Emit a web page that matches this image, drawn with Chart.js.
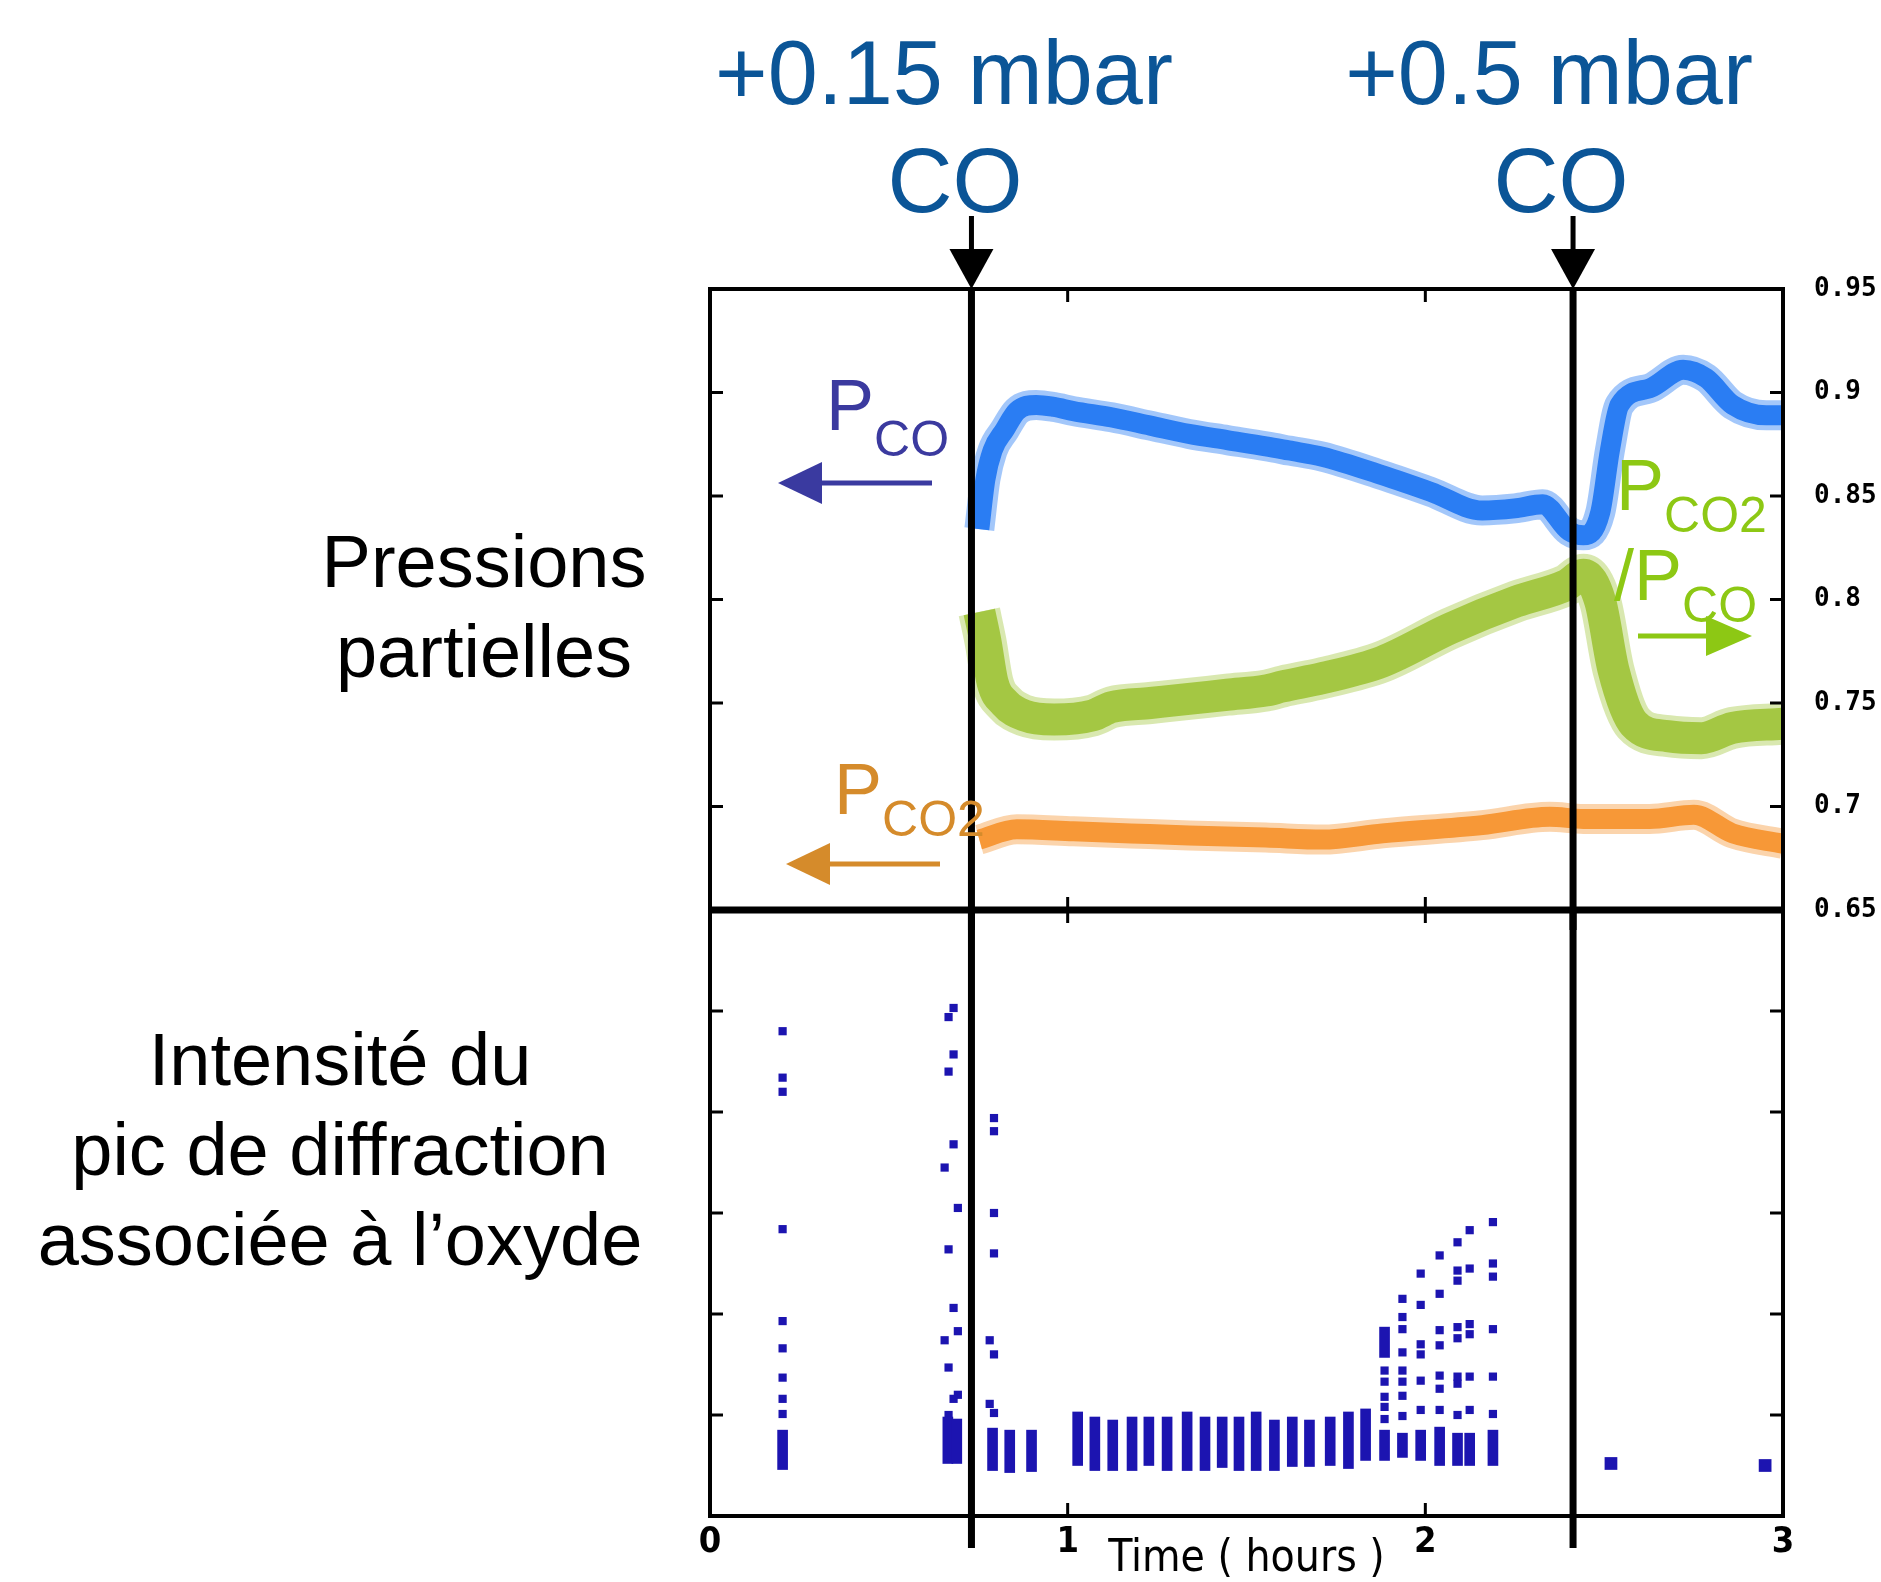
<!DOCTYPE html>
<html><head><meta charset="utf-8">
<script src="https://cdn.jsdelivr.net/npm/chart.js@4.4.1/dist/chart.umd.min.js"></script>
<style>
html,body{margin:0;padding:0;background:#fff;width:1881px;height:1582px;overflow:hidden;}
#page{position:relative;width:1881px;height:1582px;background:#fff;}
.wrap{position:absolute;left:0;}
.txt{position:absolute;white-space:nowrap;font-family:"Liberation Sans",Arial,sans-serif;}
svg{position:absolute;left:0;top:0;}
</style></head><body><div id="page">
<div class="wrap" style="top:0;width:1881px;height:930px"><canvas id="cTop" width="1881" height="930"></canvas></div>
<div class="wrap" style="top:910px;width:1881px;height:672px"><canvas id="cBot" width="1881" height="672"></canvas></div>
<svg width="1881" height="1582" viewBox="0 0 1881 1582">
  <line x1="932" y1="483" x2="815" y2="483" stroke="#3a3aa0" stroke-width="5"/>
  <polygon points="778,483 822,462 822,504" fill="#3a3aa0"/>
  <line x1="940" y1="864" x2="822" y2="864" stroke="#d58b2b" stroke-width="5"/>
  <polygon points="786,864 830,843 830,885" fill="#d58b2b"/>
  <line x1="1638" y1="636" x2="1712" y2="636" stroke="#8dc814" stroke-width="5"/>
  <polygon points="1752,636 1706,616 1706,656" fill="#8dc814"/>
</svg>
</div>
<script>
// ---------- data ----------
// events: CO additions (hours)
const eventTimes = [0.731, 2.413];
const eventLabels = ['+0.15 mbar', '+0.5 mbar'];

// P_CO (left axis, a.u. shown on same span as right axis)
const timeCO = [0.753,0.770,0.790,0.824,0.858,0.912,0.962,1.016,1.123,1.231,1.339,1.446,1.554,1.618,1.712,1.880,2.015,2.159,2.250,2.328,2.402,2.442,2.489,2.516,2.543,2.627,2.721,2.785,2.859,2.953,3.0];
const pCO    = [0.834,0.858,0.872,0.882,0.891,0.894,0.893,0.891,0.888,0.884,0.880,0.877,0.874,0.872,0.869,0.860,0.852,0.843,0.844,0.846,0.833,0.831,0.842,0.872,0.894,0.902,0.911,0.907,0.894,0.889,0.889];

// P_CO2/P_CO ratio (right axis)
const timeRatio = [0.753,0.770,0.790,0.824,0.878,0.962,1.070,1.123,1.231,1.339,1.446,1.554,1.601,1.712,1.880,2.069,2.254,2.395,2.442,2.489,2.526,2.583,2.677,2.772,2.859,3.0];
const ratio     = [0.794,0.780,0.760,0.750,0.744,0.742,0.744,0.748,0.750,0.752,0.754,0.756,0.758,0.762,0.770,0.786,0.799,0.807,0.812,0.799,0.766,0.740,0.734,0.733,0.738,0.740];

// P_CO2 (left axis)
const timeCO2 = [0.753,0.858,1.016,1.177,1.339,1.554,1.712,1.880,2.159,2.348,2.442,2.627,2.751,2.859,3.0];
const pCO2    = [0.684,0.689,0.688,0.687,0.686,0.685,0.684,0.687,0.691,0.695,0.694,0.694,0.696,0.687,0.682];

// right axis tick labels
const ratioTicks = [0.65,0.7,0.75,0.8,0.85,0.9,0.95];
const ratioTickLabels = ['0.65','0.7','0.75','0.8','0.85','0.9','0.95'];
const pressureInnerTicks = [0.7,0.75,0.8,0.85,0.9];

// time axis
const timeTicks = [0,1,2,3];
const timeTickLabels = ['0','1','2','3'];
const innerTimeTicks = [1,2];

// oxide diffraction peak intensity (a.u.) - isolated points
const oxideTime = [
 0.203,0.203,0.203,0.203,0.203,0.203,0.203,0.203,0.203,
 0.681,0.667,0.681,0.667,0.681,0.656,0.693,0.667,0.681,0.693,0.656,0.667,0.693,0.681,0.667,
 0.794,0.794,0.794,0.794,0.782,0.794,0.782,0.794,
 1.886,1.886,1.886,1.886,1.886,
 1.936,1.936,1.936,1.936,1.936,1.936,1.936,1.936,
 1.987,1.987,1.987,1.987,1.987,1.987,
 2.040,2.040,2.040,2.040,2.040,2.040,2.040,
 2.090,2.090,2.090,2.090,2.090,2.090,2.090,2.090,
 2.124,2.124,2.124,2.124,2.124,2.124,
 2.189,2.189,2.189,2.189,2.189,2.189];
const oxideIntensity = [
 4.80,4.34,4.20,2.84,1.93,1.66,1.37,1.16,1.01,
 5.03,4.94,4.57,4.40,3.68,3.45,3.05,2.64,2.06,1.83,1.74,1.47,1.20,1.16,1.00,
 3.94,3.81,3.00,2.60,1.74,1.60,1.11,1.02,
 1.44,1.33,1.18,1.08,0.96,
 2.15,1.97,1.85,1.62,1.44,1.33,1.19,0.99,
 2.40,2.09,1.70,1.60,1.34,1.05,
 2.58,2.20,1.84,1.69,1.39,1.26,1.05,
 2.71,2.43,2.33,1.87,1.76,1.38,1.31,1.00,
 2.83,2.45,1.90,1.80,1.38,1.05,
 2.91,2.50,2.37,1.85,1.38,1.01];
// larger isolated spots after second CO step
const spotTime = [2.519, 2.950];
const spotIntensity = [0.52, 0.50];
// dense runs of points (drawn as vertical strips: low..high)
const stripTime = [0.203,0.665,0.690,0.790,0.838,0.899,
 1.028,1.076,1.126,1.180,1.227,1.278,1.334,1.384,1.432,1.479,1.527,1.578,1.628,1.676,1.734,1.785,1.833,1.886,1.886,1.936,1.987,2.040,2.090,2.124,2.189];
const stripLow  = [0.46,0.52,0.52,0.45,0.43,0.44,
 0.50,0.45,0.45,0.45,0.50,0.45,0.45,0.45,0.48,0.45,0.45,0.45,0.49,0.49,0.50,0.47,0.55,0.55,1.57,0.58,0.55,0.50,0.50,0.50,0.50];
const stripHigh = [0.85,0.98,0.96,0.87,0.85,0.85,
 1.03,0.98,0.95,0.98,0.98,0.98,1.03,0.98,0.98,0.98,1.03,0.95,0.98,0.95,0.98,1.03,1.06,0.85,1.87,0.82,0.85,0.88,0.82,0.82,0.85];
const intensityInnerTicks = [1,2,3,4,5];

// ---------- helpers ----------
const zip = (xs, ys) => xs.map((x,i)=>({x, y: ys[i]}));
Chart.defaults.font.family = '"Liberation Sans", Arial, sans-serif';
Chart.defaults.color = '#000';

const framePlugin = {
  id: 'frame',
  afterDraw(chart, args, o) {
    const {ctx, chartArea: a, scales} = chart;
    const ys = scales[o.yScale], xs = scales.x;
    ctx.save();
    ctx.strokeStyle = '#000';
    ctx.lineWidth = 3;
    const seg = (x1,y1,x2,y2)=>{ctx.beginPath();ctx.moveTo(x1,y1);ctx.lineTo(x2,y2);ctx.stroke();};
    o.yTicks.forEach(v=>{const p=ys.getPixelForValue(v); seg(a.left,p,a.left+13,p); seg(a.right-13,p,a.right,p);});
    o.xTicks.forEach(v=>{const p=xs.getPixelForValue(v); seg(p,a.top,p,a.top+13); seg(p,a.bottom-13,p,a.bottom);});
    ctx.lineWidth = o.lw;
    ctx.strokeRect(a.left, a.top, a.width, a.height);
    if (o.bottomLw) { ctx.lineWidth = o.bottomLw; seg(a.left-2, a.bottom, a.right+2, a.bottom); }
    ctx.restore();
  }
};
const eventPlugin = {
  id: 'events',
  afterDraw(chart, args, o) {
    const {ctx, chartArea: a, scales: {x}} = chart;
    ctx.save();
    ctx.fillStyle = '#000';
    eventTimes.forEach(t=>{
      const p = x.getPixelForValue(t);
      if (o.top) {
        ctx.fillRect(p-2.5, o.arrowTop, 5, a.top - 40 - o.arrowTop + 2);
        ctx.beginPath(); ctx.moveTo(p-22, a.top-40); ctx.lineTo(p+22, a.top-40); ctx.lineTo(p, a.top); ctx.closePath(); ctx.fill();
        ctx.fillRect(p-3.5, a.top, 7, chart.height - a.top);
      } else {
        ctx.fillRect(p-3.5, 0, 7, a.bottom + o.below);
      }
    });
    ctx.restore();
  }
};
const noEdgePad = s => { s.paddingTop = 0; s.paddingBottom = 0; s.paddingLeft = 0; s.paddingRight = 0; };

// ---------- top chart: partial pressures ----------
const band = (label, xs, ys, axis, color, halo, w) => ([
  { label: label + ' (spread)', data: zip(xs, ys), yAxisID: axis, borderColor: halo, borderWidth: w + 10 },
  { label: label, data: zip(xs, ys), yAxisID: axis, borderColor: color, borderWidth: w }
]);
new Chart(document.getElementById('cTop'), {
  type: 'line',
  data: { datasets: [
    ...band('P_CO2/P_CO', timeRatio, ratio, 'yR', '#9fc43a', 'rgba(170,205,80,0.45)', 32),
    ...band('P_CO2', timeCO2, pCO2, 'yL', '#f7922b', 'rgba(247,160,70,0.45)', 20),
    ...band('P_CO', timeCO, pCO, 'yL', '#2478f2', 'rgba(50,130,245,0.45)', 20)
  ]},
  options: {
    responsive: false, animation: false, devicePixelRatio: 1, events: [],
    layout: { autoPadding: false, padding: { left: 710, top: 289, right: 0, bottom: 20 } },
    elements: { point: { radius: 0 }, line: { cubicInterpolationMode: 'monotone', borderJoinStyle: 'round', borderCapStyle: 'butt' } },
    scales: {
      x: { type: 'linear', min: 0, max: 3, display: false },
      yL: { type: 'linear', position: 'left', min: 0.65, max: 0.95, display: false },
      yR: { type: 'linear', position: 'right', min: 0.65, max: 0.95,
        grid: { display: false, drawTicks: false }, border: { display: false },
        afterBuildTicks: s => { s.ticks = ratioTicks.map(v=>({value: v})); },
        afterFit: s => { s.width = 98; noEdgePad(s); },
        ticks: { padding: 31, color: '#000', font: { family: '"DejaVu Sans Mono", monospace', weight: 'bold', size: 26 },
          callback: (v, i) => ratioTickLabels[i] } }
    },
    plugins: { legend: { display: false }, tooltip: { enabled: false },
      frame: { yScale: 'yR', yTicks: pressureInnerTicks, xTicks: innerTimeTicks, lw: 4, bottomLw: 7 },
      events: { top: true, arrowTop: 216 } }
  },
  plugins: [framePlugin, eventPlugin]
});

// ---------- bottom chart: oxide diffraction peak intensity ----------
const dotColor = '#1c14b0';
new Chart(document.getElementById('cBot'), {
  type: 'scatter',
  data: { datasets: [
    { type: 'bar', label: 'strips', data: stripTime.map((t,i)=>({x: t, y: [stripLow[i], stripHigh[i]]})),
      backgroundColor: dotColor, barThickness: 10, grouped: false, borderWidth: 0 },
    { type: 'scatter', label: 'points', data: zip(oxideTime, oxideIntensity),
      pointStyle: 'rect', pointRadius: 5.8, backgroundColor: dotColor, borderWidth: 0 },
    { type: 'scatter', label: 'spots', data: zip(spotTime, spotIntensity),
      pointStyle: 'rect', pointRadius: 9, backgroundColor: dotColor, borderWidth: 0 }
  ]},
  options: {
    responsive: false, animation: false, devicePixelRatio: 1, events: [],
    layout: { autoPadding: false, padding: { left: 710, top: 0, right: 98, bottom: 0 } },
    scales: {
      x: { type: 'linear', min: 0, max: 3, offset: false, position: 'bottom',
        grid: { display: false, drawTicks: false }, border: { display: false },
        afterBuildTicks: s => { s.ticks = timeTicks.map(v=>({value: v})); },
        afterFit: s => { s.height = 66; noEdgePad(s); },
        ticks: { padding: 5, color: '#000', maxRotation: 0,
          font: { family: '"Liberation Sans Narrow", "DejaVu Sans Condensed", sans-serif', weight: 'bold', size: 36 },
          callback: (v, i) => timeTickLabels[i] },
        title: { display: true, text: 'Time ( hours )', color: '#000', padding: { top: 0, bottom: 0 },
          font: { family: '"DejaVu Sans Condensed", sans-serif', size: 44, lineHeight: 1.0 } } },
      y: { type: 'linear', min: 0, max: 6, display: false }
    },
    plugins: { legend: { display: false }, tooltip: { enabled: false },
      frame: { yScale: 'y', yTicks: intensityInnerTicks, xTicks: innerTimeTicks, lw: 4 },
      events: { top: false, below: 32 } }
  },
  plugins: [framePlugin, eventPlugin]
});

// ---------- text annotations ----------
const page = document.getElementById('page');
function placeText(html, x, baseline, fs, color, align) {
  const d = document.createElement('div');
  d.className = 'txt';
  d.style.fontSize = fs + 'px';
  d.style.lineHeight = fs + 'px';
  d.style.color = color;
  d.style.top = (baseline - 0.8465 * fs) + 'px';
  d.style.left = x + 'px';
  if (align === 'center') d.style.transform = 'translateX(-50%)';
  d.innerHTML = html;
  page.appendChild(d);
}
const sub = (s, dy) => '<span style="font-size:50px;position:relative;top:' + dy + 'px">' + s + '</span>';
placeText(eventLabels[0], 944, 104, 90, '#0b5597', 'center');
placeText('CO', 955, 212, 90, '#0b5597', 'center');
placeText(eventLabels[1], 1549, 104, 90, '#0b5597', 'center');
placeText('CO', 1561, 212, 90, '#0b5597', 'center');
placeText('Pressions', 484, 588, 74, '#000', 'center');
placeText('partielles', 484, 678, 74, '#000', 'center');
placeText('Intensité du', 340, 1086, 74, '#000', 'center');
placeText('pic de diffraction', 340, 1176, 74, '#000', 'center');
placeText('associée à l’oxyde', 340, 1266, 74, '#000', 'center');
placeText('P' + sub('CO', 26), 826, 430, 72, '#3b3a9f', 'left');
placeText('P' + sub('CO2', 22), 834, 814, 72, '#d58b2b', 'left');
placeText('P' + sub('CO2', 22), 1616, 510, 72, '#8dc814', 'left');
placeText('/P' + sub('CO', 22), 1614, 600, 72, '#8dc814', 'left');
</script>
</body></html>
